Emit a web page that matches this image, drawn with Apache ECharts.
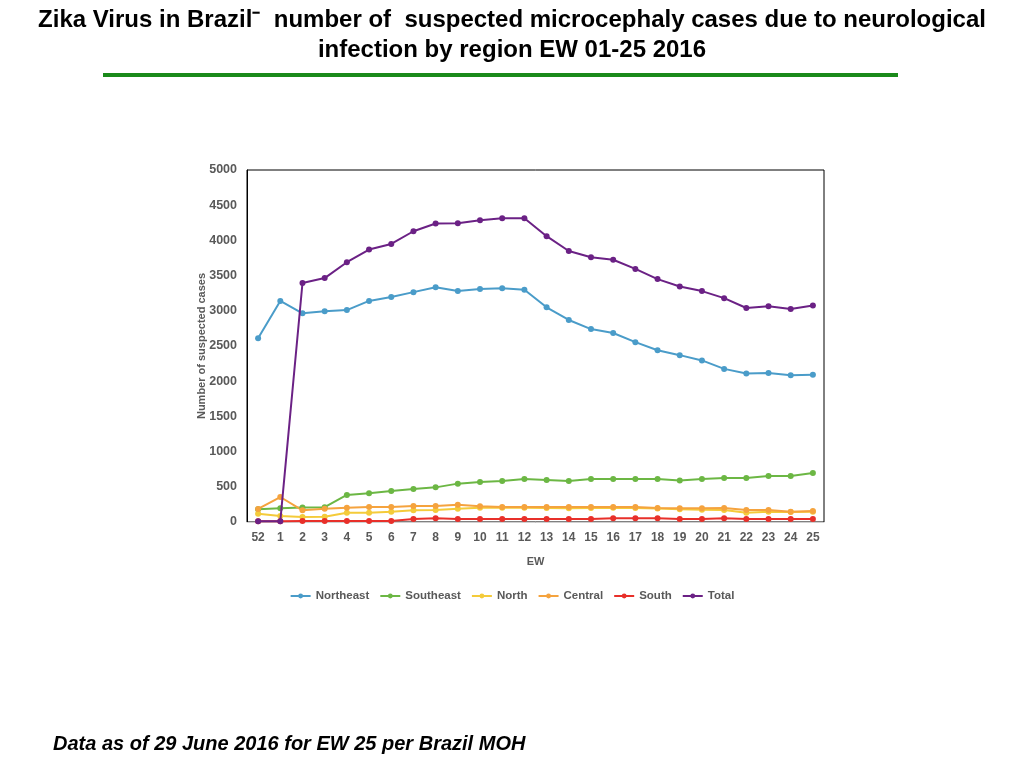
<!DOCTYPE html>
<html>
<head>
<meta charset="utf-8">
<title>Zika Virus in Brazil</title>
<script src="https://cdn.jsdelivr.net/npm/echarts@6/dist/echarts.min.js"></script>
<style>
  html, body { margin: 0; padding: 0; background: #fff; }
  #chart { width: 1024px; height: 768px; }
</style>
</head>
<body>
<div id="chart"></div>
<script>
// epidemiological weeks: last week of 2015, then 1-25 of 2016
var weeks = ['52', '1', '2', '3', '4', '5', '6', '7', '8', '9', '10', '11', '12',
             '13', '14', '15', '16', '17', '18', '19', '20', '21', '22', '23', '24', '25'];

var northeast = [2610, 3140, 2965, 2995, 3010, 3140, 3195, 3265, 3335, 3280, 3310, 3320, 3300,
                 3050, 2870, 2740, 2685, 2555, 2440, 2370, 2295, 2175, 2110, 2115, 2085, 2090];
var southeast = [180, 195, 205, 210, 385, 410, 440, 470, 492, 545, 568, 582, 610,
                 596, 582, 610, 610, 610, 610, 590, 610, 625, 625, 653, 653, 696];
var north = [118, 85, 72, 75, 132, 132, 147, 166, 172, 189, 204, 204, 204,
             200, 195, 200, 204, 199, 190, 180, 175, 170, 132, 147, 142, 147];
var central = [185, 355, 166, 188, 204, 213, 213, 227, 227, 246, 222, 213, 213,
               213, 213, 213, 213, 213, 199, 195, 195, 199, 170, 170, 147, 156];
var south = [10, 10, 14, 14, 14, 14, 14, 43, 52, 43, 43, 43, 43,
             43, 43, 43, 52, 52, 52, 43, 43, 52, 43, 43, 43, 43];
var total = [10, 10, 3395, 3465, 3690, 3870, 3950, 4130, 4240, 4245, 4285, 4315, 4315,
             4060, 3850, 3760, 3725, 3595, 3450, 3345, 3280, 3180, 3040, 3065, 3025, 3075];

var seriesNames = ['Northeast', 'Southeast', 'North', 'Central', 'South', 'Total'];
var seriesData = [northeast, southeast, north, central, south, total];
var colors = ['#4a9cc9', '#6cb744', '#f4cb3a', '#f5a33e', '#e8302a', '#6b2185'];

var grayText = '#595959';
var font = 'Liberation Sans, Arial';

function makeSeries(){
    return seriesNames.map(function(name, i){
        return {
            name: name,
            type: 'line',
            data: seriesData[i],
            color: colors[i],
            symbol: 'circle',
            symbolSize: 6,
            lineStyle: { width: 2 },
            z: i === 5 ? 4 : 3,
            animation: false
        };
    });
}

var chart = echarts.init(document.getElementById('chart'));
chart.setOption({
    backgroundColor: '#fff',
    title: [{
        text: 'Zika Virus in Brazil\u207b  number of  suspected microcephaly cases due to neurological\ninfection by region EW 01-25 2016',
        left: 'center',
        top: 0,
        textStyle: {
            fontFamily: font,
            fontWeight: 'bold',
            fontSize: 24,
            lineHeight: 30,
            align: 'center',
            color: '#000'
        }
    }, {
        text: 'Data as of 29 June 2016 for EW 25 per Brazil MOH',
        left: 48,
        top: 729,
        textStyle: {
            fontFamily: font,
            fontWeight: 'bold',
            fontStyle: 'italic',
            fontSize: 20,
            color: '#000'
        }
    }],
    graphic: [{
        type: 'rect',
        shape: { x: 103, y: 73, width: 795, height: 4 },
        style: { fill: '#1a8a1a' }
    }],
    legend: {
        data: seriesNames,
        bottom: 161,
        left: 'center',
        itemWidth: 20,
        itemHeight: 6,
        itemGap: 10,
        textStyle: { color: grayText, fontFamily: font, fontWeight: 'bold', fontSize: 11.5 }
    },
    grid: {
        left: 247,
        right: 200,
        top: 170,
        bottom: 246,
        show: true,
        borderColor: '#000',
        borderWidth: 1
    },
    xAxis: {
        type: 'category',
        data: weeks,
        boundaryGap: true,
        name: 'EW',
        nameLocation: 'middle',
        nameGap: 34,
        nameTextStyle: { color: grayText, fontWeight: 'bold', fontSize: 11, fontFamily: font },
        axisLine: { lineStyle: { color: '#d0d0d0', width: 1 } },
        axisTick: { show: false },
        axisLabel: { color: grayText, fontWeight: 'bold', fontSize: 12, margin: 10, interval: 0, fontFamily: font },
        splitLine: { show: false }
    },
    yAxis: {
        type: 'value',
        min: 0,
        max: 5000,
        interval: 500,
        name: 'Number of suspected cases',
        nameLocation: 'middle',
        nameGap: 40,
        nameMoveOverlap: false,
        nameTextStyle: { color: grayText, fontWeight: 'bold', fontSize: 11, fontFamily: font },
        axisLine: { show: true, lineStyle: { color: '#000' } },
        axisTick: { show: false },
        axisLabel: {
            color: grayText, fontWeight: 'bold', fontSize: 12.5, margin: 10, fontFamily: font,
            formatter: function(v){ return String(v); }
        },
        splitLine: { show: false }
    },
    series: makeSeries()
});
</script>
</body>
</html>
